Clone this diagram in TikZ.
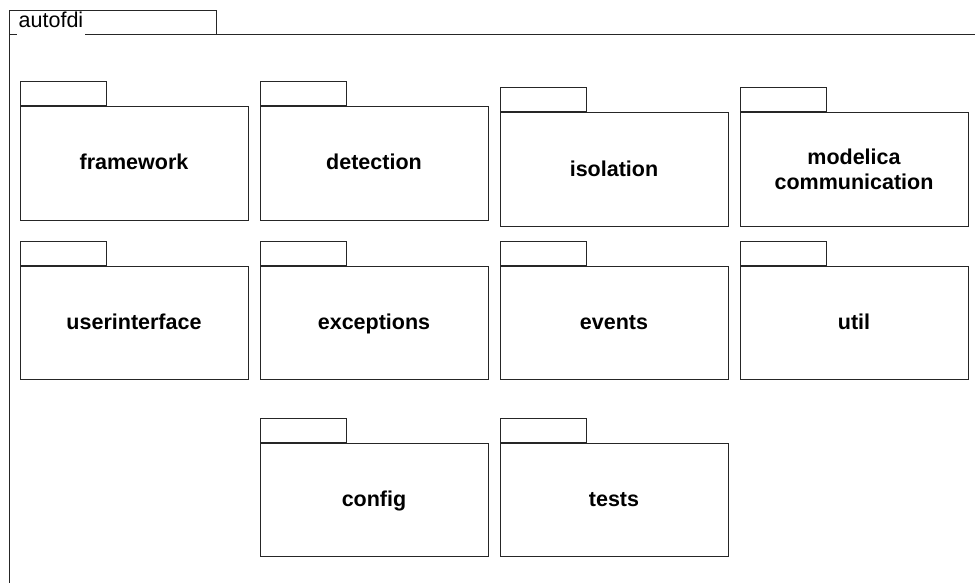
\documentclass[tikz,border=0pt]{standalone}
\usepackage{fontspec}
\setmainfont{Liberation Sans}
\begin{document}
\begin{tikzpicture}[x=1pt,y=-1pt,
  line/.style={draw=black!85, line width=1pt},
  pkgbody/.style={line, fill=white, minimum width=228pt, minimum height=113pt,
    inner sep=0pt, align=center, font=\fontsize{21.5}{24.5}\selectfont\bfseries},
  oneline/.style={text height=16pt, text depth=3pt},
  pkgtab/.style={line, fill=white, minimum width=86pt, minimum height=24pt,
    inner sep=0pt, anchor=south west}]
\useasboundingbox (0,0) rectangle (975,583);
% frame
\coordinate (ftl) at (9,11);
\coordinate (fbl) at (9,583);
\coordinate (ftr) at (216,11);
\coordinate (fbr) at (216,35);
\coordinate (fedge) at (975,35);
\coordinate (fjoin) at (9,35);
\draw[line] (fbl) -- (ftl) -- (ftr) -- (fbr);
\draw[line] (fjoin) -- (fedge);
\node[fill=white, anchor=base west, inner xsep=1.5pt, inner ysep=0pt, text height=15pt, text depth=8pt,
  font=\fontsize{21.5}{22}\selectfont] (title) at (17,28) {autofdi};
% row 1
\node[pkgbody, oneline] (fw) at (134,163.5) {framework};
\node[pkgtab] (fwt) at (fw.north west) {};
\node[pkgbody, oneline] (det) at (374,163.5) {detection};
\node[pkgtab] (dett) at (det.north west) {};
\node[pkgbody, oneline] (iso) at (614,169.5) {isolation};
\node[pkgtab] (isot) at (iso.north west) {};
\node[pkgbody] (mod) at (854,169.5) {modelica\\communication};
\node[pkgtab] (modt) at (mod.north west) {};
% row 2
\node[pkgbody, oneline] (ui) at (134,322.5) {userinterface};
\node[pkgtab] (uit) at (ui.north west) {};
\node[pkgbody, oneline] (exc) at (374,322.5) {exceptions};
\node[pkgtab] (exct) at (exc.north west) {};
\node[pkgbody, oneline] (ev) at (614,322.5) {events};
\node[pkgtab] (evt) at (ev.north west) {};
\node[pkgbody, oneline] (util) at (854,322.5) {util};
\node[pkgtab] (utilt) at (util.north west) {};
% row 3
\node[pkgbody, oneline] (cfg) at (374,499.5) {config};
\node[pkgtab] (cfgt) at (cfg.north west) {};
\node[pkgbody, oneline] (tst) at (614,499.5) {tests};
\node[pkgtab] (tstt) at (tst.north west) {};
\end{tikzpicture}
\end{document}
